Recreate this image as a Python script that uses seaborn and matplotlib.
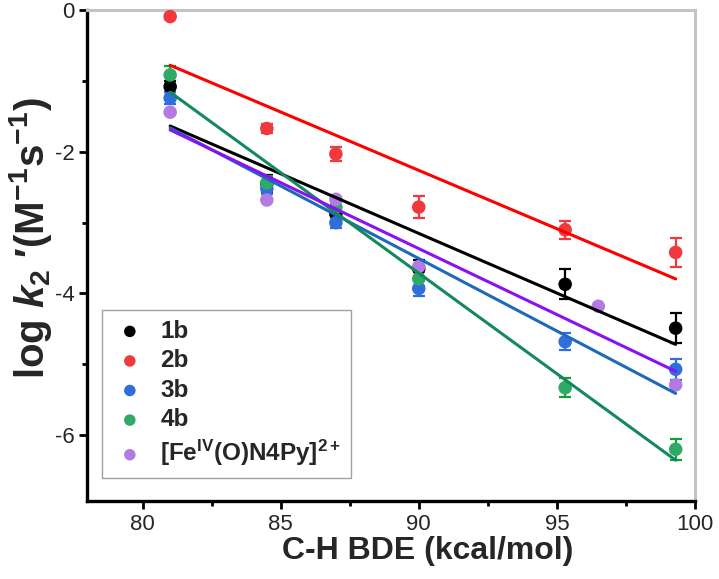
import matplotlib
matplotlib.use("Agg")
import matplotlib.pyplot as plt
import seaborn as sns
import numpy as np
import pandas as pd
from matplotlib.ticker import MultipleLocator

# ---- data ----
x_common = [81, 84.5, 87, 90, 95.3, 99.3]
y_1b = [-1.08, -2.45, -2.88, -3.65, -3.87, -4.49]
e_1b = [0.08, 0.12, 0.10, 0.12, 0.21, 0.21]
y_2b = [-0.09, -1.67, -2.03, -2.78, -3.10, -3.42]
e_2b = [0.04, 0.06, 0.10, 0.15, 0.13, 0.20]
y_3b = [-1.24, -2.52, -3.00, -3.93, -4.68, -5.07]
e_3b = [0.08, 0.08, 0.08, 0.10, 0.12, 0.15]
y_4b = [-0.915, -2.44, -2.78, -3.79, -5.33, -6.20]
e_4b = [0.13, 0.10, 0.10, 0.10, 0.13, 0.15]
x_fe = [81, 84.5, 87, 90, 96.5, 99.3]
y_fe = [-1.44, -2.68, -2.67, -3.62, -4.18, -5.29]

labels = ["1b", "2b", "3b", "4b", r"[Fe$^{\mathrm{IV}}$(O)N4Py]$^{2+}$"]
marker_colors = ["#000000", "#F0383E", "#2F6EDB", "#2DAA66", "#B47AE2"]
line_colors = ["#000000", "#FF0000", "#1F6AB8", "#148A5C", "#8A10F5"]
err_colors = ["#000000", "#F0383E", "#2F6EDB", "#14A030", None]

series = [
    (x_common, y_1b, e_1b),
    (x_common, y_2b, e_2b),
    (x_common, y_3b, e_3b),
    (x_common, y_4b, e_4b),
    (x_fe, y_fe, None),
]

sns.set_theme(style="white")
plt.rcParams["font.family"] = ["Liberation Sans", "DejaVu Sans"]
plt.rcParams["axes.unicode_minus"] = False
plt.rcParams["mathtext.fontset"] = "custom"
plt.rcParams["mathtext.rm"] = "Liberation Sans:bold"
plt.rcParams["mathtext.bf"] = "Liberation Sans:bold"
plt.rcParams["mathtext.it"] = "Liberation Sans:bold:italic"

fig = plt.figure(figsize=(7.19, 5.79), dpi=100)
ax = fig.add_axes([0.1214, 0.1347, 0.9666 - 0.1214, 0.9824 - 0.1347])

for (xs, ys, es), lab, mc, lc, ec in zip(series, labels, marker_colors, line_colors, err_colors):
    df = pd.DataFrame({"x": xs, "y": ys})
    if es is not None:
        ax.errorbar(xs, ys, yerr=es, fmt="none", ecolor=ec, elinewidth=1.6,
                    capsize=4.5, capthick=1.6, zorder=2, label="_nolegend_")
    sns.scatterplot(data=df, x="x", y="y", ax=ax, color=mc, s=95,
                    edgecolor="none", label=lab, zorder=3)

for (xs, ys, es), lc in zip(series, line_colors):
    df = pd.DataFrame({"x": xs, "y": ys})
    sns.regplot(data=df, x="x", y="y", ax=ax, scatter=False, ci=None,
                truncate=True, line_kws={"color": lc, "lw": 2.2, "zorder": 4,
                                         "label": "_nolegend_"})

ax.set_xlim(78, 100)
ax.set_ylim(-6.93, 0)
ax.xaxis.set_major_locator(MultipleLocator(5))
ax.xaxis.set_minor_locator(MultipleLocator(2.5))
ax.yaxis.set_major_locator(MultipleLocator(2))
ax.yaxis.set_minor_locator(MultipleLocator(1))
ax.tick_params(axis="both", which="major", direction="out", length=6, width=2,
               labelsize=16, color="black", bottom=True, left=True, pad=3)
ax.tick_params(axis="both", which="minor", direction="out", length=3.5, width=2,
               color="black", bottom=True, left=True)
ax.tick_params(top=False, right=False, which="both")

for s in ["left", "bottom"]:
    ax.spines[s].set_color("black")
    ax.spines[s].set_linewidth(2.4)
for s in ["top", "right"]:
    ax.spines[s].set_color("#C4C4C4")
    ax.spines[s].set_linewidth(2.2)

ax.set_xlabel("C-H BDE (kcal/mol)", fontsize=23, fontweight="bold", labelpad=1)
ax.set_ylabel(r"log $k_{2}$ ′(M$^{-1}$s$^{-1}$)", fontsize=29, fontweight="bold",
              labelpad=1)
ax.xaxis.label.set_x(0.56)
ax.yaxis.label.set_y(0.535)

handles, labs = ax.get_legend_handles_labels()
leg = ax.legend(handles, labs, loc="lower left", bbox_to_anchor=(0.024, 0.047),
                borderaxespad=0, frameon=True, fancybox=False, edgecolor="#8A8A8A",
                prop={"weight": "bold", "size": 17.5}, handletextpad=0.5,
                labelspacing=0.27, borderpad=0.4, markerscale=0.85,
                handlelength=1.5)
leg.get_frame().set_linewidth(1.0)

fig.savefig("out.png", dpi=100)
